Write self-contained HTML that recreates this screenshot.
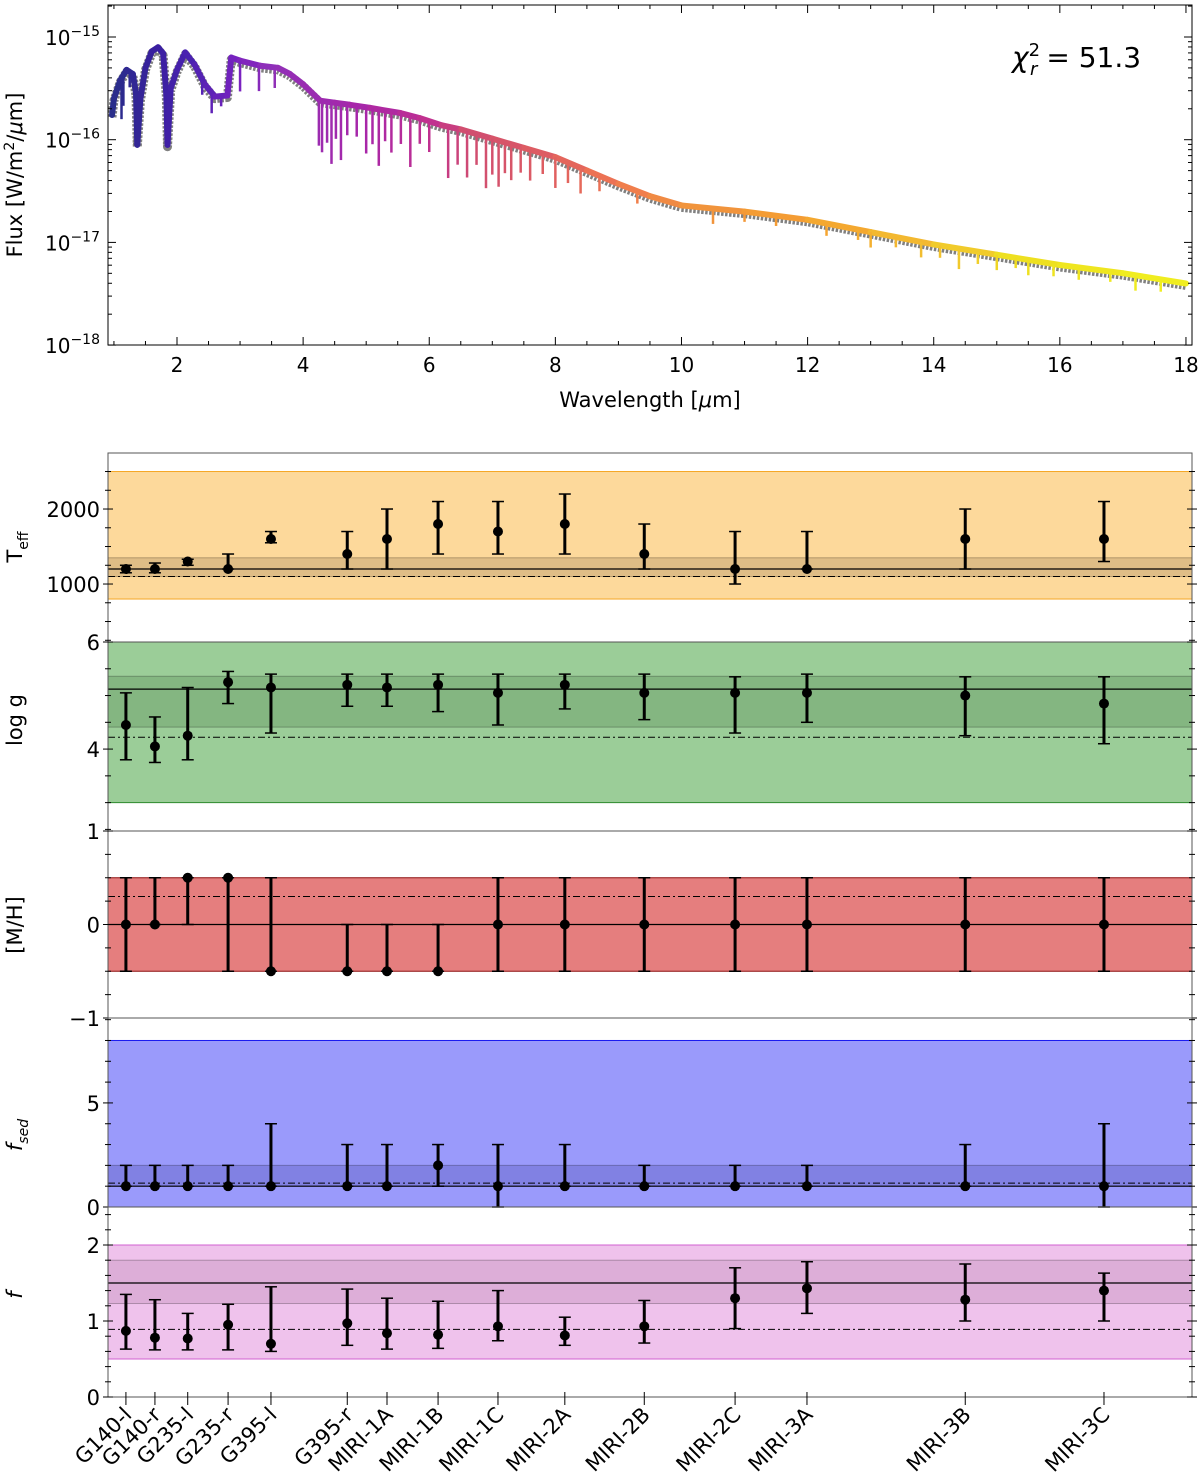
<!DOCTYPE html>
<html><head><meta charset="utf-8"><style>
html,body{margin:0;padding:0;background:#fff}
svg{display:block}
text{font-family:"DejaVu Sans","Liberation Sans",sans-serif;fill:#000}
</style></head><body>
<svg id="fig" width="1200" height="1482" viewBox="0 0 1200 1482" xmlns="http://www.w3.org/2000/svg"></svg>
<script>
// ---- spectrum data ----
const specWl = [0.97,1.0,1.1,1.2,1.3,1.35,1.37,1.42,1.5,1.6,1.7,1.78,1.83,1.85,1.9,2.0,2.13,2.28,2.44,2.6,2.8,2.86,3.0,3.32,3.6,3.79,4.0,4.27,4.5,4.74,5.06,5.54,5.85,6.2,6.5,7.0,7.5,8.0,8.5,9.0,9.5,10.0,11.0,12.0,13.0,14.0,15.0,16.0,17.0,18.0];
const specLog = [-15.76,-15.6,-15.42,-15.32,-15.36,-15.55,-16.05,-15.6,-15.3,-15.14,-15.1,-15.16,-15.55,-16.05,-15.5,-15.32,-15.15,-15.27,-15.46,-15.58,-15.57,-15.2,-15.23,-15.28,-15.3,-15.36,-15.46,-15.62,-15.64,-15.66,-15.69,-15.74,-15.79,-15.86,-15.9,-15.99,-16.08,-16.17,-16.3,-16.43,-16.55,-16.64,-16.7,-16.78,-16.9,-17.02,-17.12,-17.22,-17.3,-17.4];
const spikeWl = [1.12,1.15,1.25,2.4,2.55,2.7,3.0,3.3,3.55,4.25,4.3,4.38,4.45,4.52,4.6,4.7,4.85,5.0,5.1,5.2,5.3,5.4,5.55,5.7,5.85,6.0,6.3,6.45,6.6,6.75,6.9,7.0,7.1,7.2,7.3,7.45,7.6,7.8,8.0,8.2,8.4,8.7,9.3,10.5,11.0,11.5,12.3,12.8,13.0,13.4,13.8,14.1,14.4,14.7,15.0,15.3,15.5,15.9,16.3,16.8,17.2,17.6];
const spikeDepth = [0.4,0.3,0.15,0.15,0.2,0.1,0.3,0.25,0.2,0.45,0.5,0.4,0.6,0.35,0.55,0.3,0.3,0.45,0.35,0.55,0.3,0.4,0.3,0.5,0.25,0.3,0.5,0.35,0.45,0.3,0.5,0.35,0.45,0.3,0.35,0.25,0.3,0.2,0.3,0.2,0.25,0.15,0.12,0.15,0.1,0.1,0.12,0.1,0.15,0.1,0.15,0.12,0.2,0.12,0.15,0.1,0.15,0.12,0.12,0.1,0.15,0.12];
const chi2 = "51.3";
// ---- retrieval data ----
const cats = ["G140-l","G140-r","G235-l","G235-r","G395-l","G395-r","MIRI-1A","MIRI-1B","MIRI-1C","MIRI-2A","MIRI-2B","MIRI-2C","MIRI-3A","MIRI-3B","MIRI-3C"];
const catWl = [1.19,1.65,2.17,2.81,3.49,4.70,5.33,6.14,7.09,8.15,9.41,10.85,11.99,14.50,16.70];
const teffVal = [1200,1200,1300,1200,1600,1400,1600,1800,1700,1800,1400,1200,1200,1600,1600];
const teffLo  = [1150,1150,1250,1200,1550,1200,1200,1400,1400,1400,1200,1000,1200,1200,1300];
const teffHi  = [1250,1280,1330,1400,1700,1700,2000,2100,2100,2200,1800,1700,1700,2000,2100];
const loggVal = [4.45,4.05,4.25,5.25,5.15,5.2,5.15,5.2,5.05,5.2,5.05,5.05,5.05,5.0,4.85];
const loggLo  = [3.8,3.75,3.8,4.85,4.3,4.8,4.8,4.7,4.45,4.75,4.55,4.3,4.5,4.25,4.1];
const loggHi  = [5.05,4.6,5.15,5.45,5.4,5.4,5.4,5.4,5.4,5.4,5.4,5.35,5.4,5.35,5.35];
const mhVal = [0,0,0.5,0.5,-0.5,-0.5,-0.5,-0.5,0,0,0,0,0,0,0];
const mhLo  = [-0.5,0,0,-0.5,-0.5,-0.5,-0.5,-0.5,-0.5,-0.5,-0.5,-0.5,-0.5,-0.5,-0.5];
const mhHi  = [0.5,0.5,0.5,0.5,0.5,0,0,0,0.5,0.5,0.5,0.5,0.5,0.5,0.5];
const fsedVal = [1,1,1,1,1,1,1,2,1,1,1,1,1,1,1];
const fsedLo  = [1,1,1,1,1,1,1,1,0,1,1,1,1,1,0];
const fsedHi  = [2,2,2,2,4,3,3,3,3,3,2,2,2,3,4];
const fVal = [0.87,0.78,0.77,0.95,0.7,0.97,0.84,0.82,0.93,0.81,0.93,1.3,1.43,1.28,1.4];
const fLo  = [0.63,0.62,0.62,0.62,0.6,0.68,0.63,0.64,0.74,0.68,0.71,0.9,1.1,1.0,1.0];
const fHi  = [1.35,1.28,1.1,1.22,1.45,1.42,1.3,1.26,1.4,1.05,1.27,1.7,1.78,1.75,1.63];
const teffBand = [800,2500], teffPost = [1100,1350], teffBest = 1200, teffRef = 1100;
const loggBand = [3,6], loggPost = [4.41,5.36], loggBest = 5.12, loggRef = 4.22;
const mhBand = [-0.5,0.5], mhPost = [-0.5,0.5], mhBest = 0, mhRef = 0.3;
const fsedBand = [0,8], fsedPost = [1,2], fsedBest = 1, fsedRef = 1.15;
const fBand = [0.5,2], fPost = [1.23,1.8], fBest = 1.5, fRef = 0.89;

const NS = "http://www.w3.org/2000/svg";
const svg = document.getElementById('fig');
function mk(tag, attrs, parent){const e=document.createElementNS(NS,tag);for(const k in attrs)e.setAttribute(k,attrs[k]);(parent||svg).appendChild(e);return e;}

const XL=108, XR=1192;
const xScale = wl => 177 + (wl-2)*63.06;
const TOP=5, BOT=345;
const yLog = v => 37 + (-15 - v)*102.7;

const topG = mk('g',{});


const clip = mk('clipPath',{id:'c1'},topG);
mk('rect',{x:XL,y:TOP,width:XR-XL,height:BOT-TOP},clip);
const plotG = mk('g',{'clip-path':'url(#c1)'},topG);

function colorAt(wl){
  const stops=[[1,[42,46,138]],[1.7,[58,31,160]],[2.2,[74,34,176]],[3,[122,34,192]],[3.5,[144,48,184]],[5,[168,38,168]],[6,[192,48,144]],[6.7,[208,77,112]],[8,[224,96,96]],[9,[240,120,80]],[10,[240,144,64]],[12,[245,160,48]],[14,[242,192,48]],[15.5,[238,224,32]],[18,[240,240,32]]];
  for(let i=0;i<stops.length-1;i++){const a=stops[i],b=stops[i+1];if(wl<=b[0]){const t=Math.max(0,(wl-a[0])/(b[0]-a[0]));return 'rgb('+a[1].map((c,j)=>Math.round(c+(b[1][j]-c)*t)).join(',')+')';}}
  return 'rgb(240,240,32)';
}
function specAt(wl){for(let i=0;i<specWl.length-1;i++){if(wl<=specWl[i+1]){const t=(wl-specWl[i])/(specWl[i+1]-specWl[i]);return specLog[i]+(specLog[i+1]-specLog[i])*t;}}return specLog[specLog.length-1];}

let dObs='';
specWl.forEach((w,i)=>{dObs+=(i?'L':'M')+xScale(w).toFixed(1)+','+(yLog(specLog[i])+2).toFixed(1);});
const obs = mk('path',{d:dObs,fill:'none',stroke:'#808080','stroke-width':9,'stroke-linejoin':'round','stroke-dasharray':'2.5 1.5'},plotG);


const modelG = mk('g',{},plotG);


for(let i=0;i<specWl.length-1;i++){
  mk('line',{x1:xScale(specWl[i]),y1:yLog(specLog[i]),x2:xScale(specWl[i+1]),y2:yLog(specLog[i+1]),stroke:colorAt((specWl[i]+specWl[i+1])/2),'stroke-width':6,'stroke-linecap':'round'},modelG);
}
spikeWl.forEach((w,i)=>{
  const v=specAt(w);
  const s=mk('line',{x1:xScale(w),y1:yLog(v),x2:xScale(w),y2:yLog(v-spikeDepth[i]),stroke:colorAt(w),'stroke-width':2.5},modelG);
  
  
});
mk('rect',{x:XL,y:TOP,width:XR-XL,height:BOT-TOP,fill:'none',stroke:'#000','stroke-width':1},topG);
for(let w=1;w<=18.01;w+=0.5){
  const x=xScale(w), maj=(Math.abs(w%2)<0.01), L=maj?8:4;
  mk('line',{x1:x,y1:BOT,x2:x,y2:BOT-L,stroke:'#000'},topG);
  mk('line',{x1:x,y1:TOP,x2:x,y2:TOP+L,stroke:'#000'},topG);
  if(maj){const t=mk('text',{x:x,y:BOT+27,'text-anchor':'middle','font-size':20},topG);t.textContent=String(w);
    
    }
}
for(let e=-18;e<=-15;e++){
  const y=yLog(e);
  mk('line',{x1:XL,y1:y,x2:XL+8,y2:y,stroke:'#000'},topG);
  mk('line',{x1:XR,y1:y,x2:XR-8,y2:y,stroke:'#000'},topG);
  const t=mk('text',{x:100,y:y+8,'text-anchor':'end','font-size':20},topG);
  t.innerHTML='10<tspan dy="-9" font-size="14">\u2212'+(-e)+'</tspan>';
  
  
  for(let m=2;m<=9;m++){const ym=yLog(e+Math.log10(m));if(ym<TOP)continue;
    mk('line',{x1:XL,y1:ym,x2:XL+4,y2:ym,stroke:'#000'},topG);mk('line',{x1:XR,y1:ym,x2:XR-4,y2:ym,stroke:'#000'},topG);}
}
let t=mk('text',{x:650,y:407,'text-anchor':'middle','font-size':21},topG);
t.innerHTML='Wavelength [<tspan font-style="italic">\u03bc</tspan>m]';


t=mk('text',{transform:'translate(22,175) rotate(-90)','text-anchor':'middle','font-size':21},topG);
t.innerHTML='Flux [W/m<tspan dy="-8" font-size="14">2</tspan><tspan dy="8">/</tspan><tspan font-style="italic">\u03bc</tspan>m]';


t=mk('text',{x:1012,y:67,'font-size':28},topG);
t.innerHTML='<tspan font-style="italic">\u03c7</tspan><tspan dy="-11" font-size="18">2</tspan><tspan dx="-10" dy="19" font-size="18" font-style="italic">r</tspan><tspan dy="-8"> = '+chi2+'</tspan>';



const panels=[
 {name:'teff',top:453,bot:642,vTop:2747,vBot:227,val:teffVal,lo:teffLo,hi:teffHi,band:teffBand,post:teffPost,best:teffBest,ref:teffRef,fill:'#fdd99b',edge:'#f5a623',postFill:'rgba(120,90,60,0.22)',maj:[1000,2000],minor:250,label:'T<tspan dy="6" font-size="14">eff</tspan>',ly:547},
 {name:'logg',top:642,bot:831,vTop:6,vBot:2.47,val:loggVal,lo:loggLo,hi:loggHi,band:loggBand,post:loggPost,best:loggBest,ref:loggRef,fill:'#9bcd98',edge:'#2e8b2e',postFill:'rgba(40,90,40,0.2)',maj:[4,6],minor:0.5,label:'log g',ly:720},
 {name:'metallicity',top:831,bot:1018,vTop:1,vBot:-1,val:mhVal,lo:mhLo,hi:mhHi,band:mhBand,post:mhPost,best:mhBest,ref:mhRef,fill:'#e57e7e',edge:'#c02020',postFill:'rgba(0,0,0,0)',maj:[-1,0,1],minor:0.25,label:'[M/H]',ly:925},
 {name:'fsed',top:1018,bot:1207,vTop:9.08,vBot:0,val:fsedVal,lo:fsedLo,hi:fsedHi,band:fsedBand,post:fsedPost,best:fsedBest,ref:fsedRef,fill:'#9a9afb',edge:'#1a1af0',postFill:'rgba(40,40,140,0.22)',maj:[0,5],minor:1,label:'<tspan font-style="italic">f</tspan><tspan dy="6" font-size="14" font-style="italic">sed</tspan>',ly:1135},
 {name:'f',top:1207,bot:1397,vTop:2.5,vBot:0,val:fVal,lo:fLo,hi:fHi,band:fBand,post:fPost,best:fBest,ref:fRef,fill:'#efc2ec',edge:'#d060d0',postFill:'rgba(120,60,110,0.15)',maj:[0,1,2],minor:0.2,label:'<tspan font-style="italic">f</tspan>',ly:1295}
];
panels.forEach(p=>{
  const g=mk('g',{});
  
  
  const ys=v=>p.top+(p.vTop-v)/(p.vTop-p.vBot)*(p.bot-p.top);
  const b=mk('rect',{x:XL,y:ys(p.band[1]),width:XR-XL,height:ys(p.band[0])-ys(p.band[1]),fill:p.fill,stroke:p.edge,'stroke-width':1},g);
  
  
  const pb=mk('rect',{x:XL,y:ys(p.post[1]),width:XR-XL,height:ys(p.post[0])-ys(p.post[1]),fill:p.postFill,stroke:'rgba(0,0,0,0.25)','stroke-width':1},g);
  
  
  const bl=mk('line',{x1:XL,x2:XR,y1:ys(p.best),y2:ys(p.best),stroke:'#000','stroke-width':1.2},g);
  
  
  const rl=mk('line',{x1:XL,x2:XR,y1:ys(p.ref),y2:ys(p.ref),stroke:'#000','stroke-width':1,'stroke-dasharray':'7 3 2 3'},g);
  
  
  p.val.forEach((v,i)=>{
    const x=xScale(catWl[i]);
    const eg=mk('g',{},g);
    
    
    mk('line',{x1:x,x2:x,y1:ys(p.lo[i]),y2:ys(p.hi[i]),stroke:'#000','stroke-width':3},eg);
    mk('line',{x1:x-6,x2:x+6,y1:ys(p.lo[i]),y2:ys(p.lo[i]),stroke:'#000','stroke-width':1.5},eg);
    mk('line',{x1:x-6,x2:x+6,y1:ys(p.hi[i]),y2:ys(p.hi[i]),stroke:'#000','stroke-width':1.5},eg);
    mk('circle',{cx:x,cy:ys(v),r:5,fill:'#000'},eg);
  });
  mk('rect',{x:XL,y:p.top,width:XR-XL,height:p.bot-p.top,fill:'none',stroke:'#555','stroke-width':1},g);
  const start=Math.ceil(p.vBot/p.minor)*p.minor;
  for(let v=start;v<=p.vTop+1e-9;v+=p.minor){
    const y=ys(v), isMaj=p.maj.some(m=>Math.abs(m-v)<1e-6), L=isMaj?5:3;
    mk('line',{x1:XL-L,x2:XL+L,y1:y,y2:y,stroke:'#000'},g);
    mk('line',{x1:XR-L,x2:XR+L,y1:y,y2:y,stroke:'#000'},g);
  }
  p.maj.forEach(m=>{
    const tl=mk('text',{x:100,y:ys(m)+8,'text-anchor':'end','font-size':21},g);
    tl.textContent=(m<0?'\u2212':'')+Math.abs(m);
    
    
  });
  const lab=mk('text',{transform:'translate(22,'+p.ly+') rotate(-90)','text-anchor':'middle','font-size':21},g);
  lab.innerHTML=p.label;
  
  
});
cats.forEach((c,i)=>{
  const x=xScale(catWl[i]);
  mk('line',{x1:x,x2:x,y1:1392,y2:1405,stroke:'#000'});
  const tl=mk('text',{transform:'translate('+(x+7)+',1416) rotate(-45)','text-anchor':'end','font-size':21});
  tl.textContent=c;
  
  
});
</script>
</body></html>
